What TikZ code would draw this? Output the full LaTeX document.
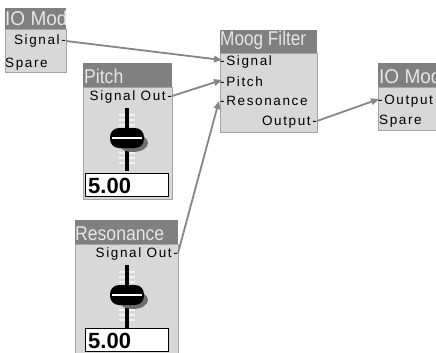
\documentclass[tikz,border=0pt]{standalone}
\usepackage{fontspec}
\usepackage{graphicx}
\setmainfont{Liberation Sans}
\newfontfamily\portfont[LetterSpace=12]{Liberation Sans}
\usetikzlibrary{arrows.meta}

\definecolor{titlegray}{HTML}{808080}
\definecolor{titletext}{HTML}{E6E6E6}
\definecolor{bodygray}{HTML}{D8D8D8}
\definecolor{bodyline}{HTML}{A4A4A4}
\definecolor{wiregray}{HTML}{858585}
\definecolor{tickwhite}{HTML}{F2F2F2}
\definecolor{shadowgray}{HTML}{6E6E6E}

\tikzset{
  modbody/.style={fill=bodygray, draw=bodyline, line width=0.8pt,
    anchor=north west, inner sep=0pt},
  modtitle/.style={fill=titlegray, draw=none, anchor=north west, inner sep=0pt},
  titletxt/.style={anchor=base west, inner sep=0pt, text=titletext,
    font=\fontsize{20}{20}\selectfont},
  portL/.style={anchor=base west, inner sep=0pt, font=\portfont\fontsize{13.5}{14}\selectfont},
  portR/.style={anchor=base east, inner sep=0pt, font=\portfont\fontsize{13.5}{14}\selectfont},
  valbox/.style={fill=white, draw=black, line width=1.3pt, anchor=north west,
    inner sep=0pt},
  valtxt/.style={anchor=base west, inner sep=0pt,
    font=\bfseries\fontsize{22}{22}\selectfont},
  wire/.style={draw=wiregray, line width=1.8pt,
    -{Triangle[length=8pt,width=6.5pt]}},
  pics/fader/.style={code={
    % scale ticks
    \foreach \t in {-23,-18,-13,15,20,25}
      \draw[tickwhite, line width=1.2pt] (-8,\t) -- (8,\t);
    % track
    \draw[black, line width=3.5pt] (0,-30) -- (0,33);
    % knob with its shadow and highlight stripe
    \fill[shadowgray] (6,5) ellipse (15pt and 9pt);
    \fill[black, rounded corners=9pt] (-17,-10) rectangle (17,10);
    \fill[white] (-15,-1.5) rectangle (15,1.2);
  }}
}

\begin{document}
\begin{tikzpicture}[x=1pt, y=-1pt]
  \useasboundingbox (0,0) rectangle (436,353);
  \fill[white] (0,0) rectangle (436,353);
  \clip (0,0) rectangle (436,353);

  % ---- left IO module
  \node[modtitle, minimum width=61pt, minimum height=21pt] (io1t) at (5,8) {};
  \node[modbody, minimum width=61pt, minimum height=43pt] (io1) at (5,29) {};
  \node[titletxt] (io1name) at (5,26) {\scalebox{0.95}[1]{IO Mod}};
  \node[portR] (io1sig) at (66,45) {Signal-};
  \node[portL] (io1spare) at (5,67) {Spare};

  % ---- Pitch fader
  \node[modtitle, minimum width=89pt, minimum height=24pt] (pitt) at (83,63) {};
  \node[modbody, minimum width=89pt, minimum height=112pt] (pit) at (83,87) {};
  \node[titletxt] (pitname) at (84,83) {\scalebox{0.88}[1]{Pitch}};
  \node[portR] (pitsig) at (172,100) {Signal Out-};
  \pic at (127,138) {fader};
  \node[valbox, minimum width=83pt, minimum height=23pt] (pitval) at (85,173) {};
  \node[valtxt] (pitnum) at (88,193) {5.00};

  % ---- Resonance fader
  \node[modtitle, minimum width=103pt, minimum height=24pt] (rest) at (75,220) {};
  \node[modbody, minimum width=103pt, minimum height=112pt] (res) at (75,244) {};
  \node[titletxt] (resname) at (75,240) {\scalebox{0.88}[1]{Resonance}};
  \node[portR] (ressig) at (178,257) {Signal Out-};
  \pic at (127,295) {fader};
  \node[valbox, minimum width=83pt, minimum height=23pt] (resval) at (85,328) {};
  \node[valtxt] (resnum) at (88,348) {5.00};

  % ---- Moog filter
  \node[modtitle, minimum width=97pt, minimum height=23pt] (moogt) at (220,30) {};
  \node[modbody, minimum width=97pt, minimum height=79pt] (moog) at (220,53) {};
  \node[titletxt] (moogname) at (220,46) {\scalebox{0.86}[1]{Moog Filter}};
  \node[portL] (moogsig) at (220,66) {-Signal};
  \node[portL] (moogpit) at (220,86) {-Pitch};
  \node[portL] (moogres) at (220,105) {-Resonance};
  \node[portR] (moogout) at (317,125) {Output-};

  % ---- right IO module
  \node[modtitle, minimum width=70pt, minimum height=24pt] (io2t) at (378,63) {};
  \node[modbody, minimum width=70pt, minimum height=43pt] (io2) at (378,87) {};
  \node[titletxt] (io2name) at (379,83) {\scalebox{0.95}[1]{IO Mod}};
  \node[portL] (io2in) at (378,104) {-Output};
  \node[portL] (io2spare) at (379,124) {Spare};

  % ---- port anchors
  \coordinate (io1-out) at (66,41);
  \coordinate (pit-out) at (172,96);
  \coordinate (res-out) at (178,253);
  \coordinate (moog-sig) at (222,60);
  \coordinate (moog-pit) at (222,80);
  \coordinate (moog-res) at (219,101);
  \coordinate (moog-out) at (317,121);
  \coordinate (io2-in) at (379,99);

  % ---- patch cables
  \draw[wire] (io1-out) -- (moog-sig);
  \draw[wire] (pit-out) -- (moog-pit);
  \draw[wire] (res-out) -- (moog-res);
  \draw[wire] (moog-out) -- (io2-in);
\end{tikzpicture}
\end{document}
